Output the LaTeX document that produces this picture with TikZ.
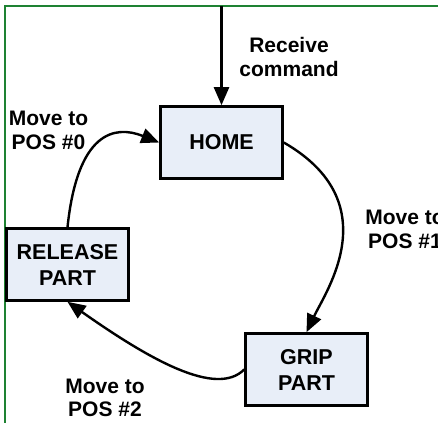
\documentclass[tikz,border=0pt]{standalone}
\usepackage{fontspec}
\setmainfont{Liberation Sans}
\usetikzlibrary{arrows.meta}
\definecolor{framegreen}{RGB}{30,130,50}
\definecolor{boxfill}{RGB}{232,238,248}
\tikzset{
  statebox/.style={draw=black, line width=2.6pt, fill=boxfill, minimum width=122pt, minimum height=72pt, inner sep=0pt, align=center, font=\fontsize{21.5}{26}\selectfont\bfseries},
  lbl/.style={inner sep=0pt, align=center, font=\fontsize{21}{23.5}\selectfont\bfseries},
  conn/.style={line width=2.4pt, -{Triangle[length=18pt,width=15pt]}}
}
\begin{document}
\begin{tikzpicture}[x=1pt, y=-1pt]
\useasboundingbox (0,0) rectangle (438,422);
% frame
\draw[framegreen, line width=2pt] (440,6) -- (5,6) -- (5,424);
% nodes
\node[statebox] (home) at (221.5,142.5) {HOME};
\node[statebox] (release) at (67.5,264.5) {RELEASE\\PART};
\node[statebox] (grip) at (306.5,369.5) {GRIP\\PART};
\coordinate (cmd) at (221.5,6);
% labels
\node[lbl] (lrecv) at (289,57) {Receive\\command};
\node[lbl] (lpos0) at (48.5,130.5) {Move to\\POS \#0};
\node[lbl] (lpos1) at (405,229.5) {Move to\\POS \#1};
\node[lbl] (lpos2) at (105,398) {Move to\\POS \#2};
% connectors
\draw[conn] (cmd) -- (home.north);
\draw[conn] (home.east) .. controls +(104,60) and +(19.5,-41) .. (grip.north);
\draw[conn] (grip.west) .. controls +(-28,28) and +(82,57.7) .. (release.south);
\draw[conn] (release.north) .. controls +(10,-95) and +(-45,-18) .. (home.west);
\end{tikzpicture}
\end{document}
